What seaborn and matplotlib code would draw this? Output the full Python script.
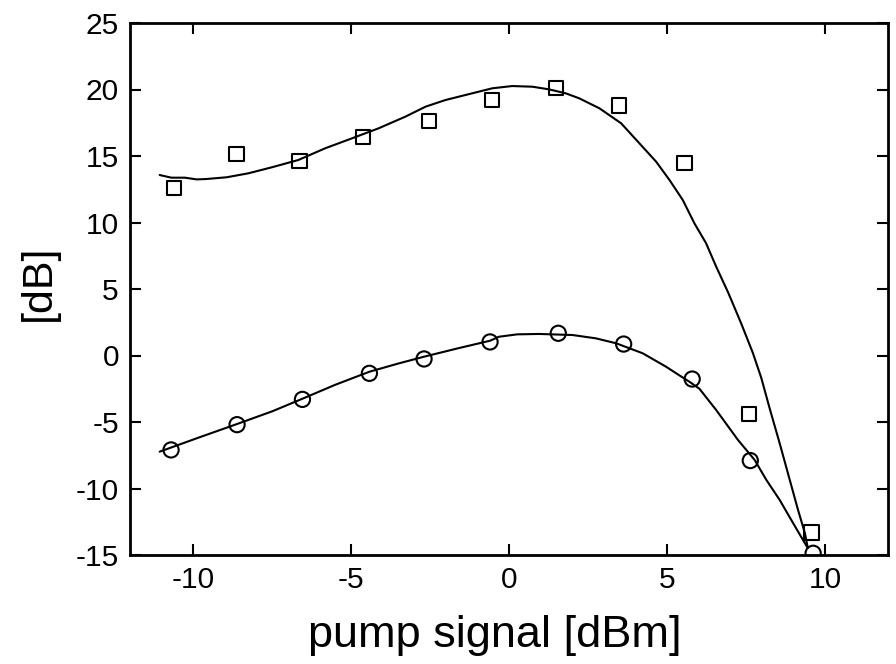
import matplotlib
matplotlib.use("Agg")
import matplotlib.pyplot as plt
import seaborn as sns
import pandas as pd

# measured points (squares)
sq_x = [-10.6, -8.63, -6.63, -4.63, -2.54, -0.55, 1.5, 3.49, 5.56, 7.59, 9.58]
sq_y = [12.6, 15.15, 14.6, 16.45, 17.65, 19.2, 20.14, 18.8, 14.45, -4.4, -13.3]

# measured points (circles)
ci_x = [-10.7, -8.61, -6.54, -4.42, -2.69, -0.6, 1.56, 3.63, 5.8, 7.64, 9.63]
ci_y = [-7.1, -5.2, -3.3, -1.34, -0.26, 1.02, 1.67, 0.86, -1.77, -7.9, -14.87]

# fitted curve (upper)
fit_up_x = [-11.06, -10.69, -10.26, -9.89, -9.58, -8.94, -8.25, -7.51, -6.67, -5.82,
            -4.97, -4.13, -3.28, -2.64, -2.01, -1.17, -0.53, 0.1, 0.74, 1.27, 1.8,
            2.22, 2.86, 3.55, 4.13, 4.66, 5.08, 5.5, 5.87, 6.24, 6.56, 6.93, 7.04,
            7.35, 7.72, 7.99, 8.25, 8.57, 8.89, 9.15, 9.37, 9.46]
fit_up_y = [13.57, 13.37, 13.37, 13.24, 13.27, 13.4, 13.7, 14.15, 14.7, 15.58,
            16.33, 17.08, 17.96, 18.71, 19.21, 19.71, 20.09, 20.26, 20.21, 20.01, 19.71,
            19.34, 18.59, 17.46, 15.95, 14.57, 13.2, 11.7, 9.94, 8.44, 6.68, 4.78, 4.17,
            2.42, 0.2, -1.7, -3.95, -6.6, -9.36, -11.6, -13.37, -14.47]

# fitted curve (lower)
fit_lo_x = [-11.06, -9.8, -8.61, -7.5, -6.54, -5.5, -4.42, -3.5, -2.69, -1.6, -0.6,
            -0.32, 0.26, 0.95, 2.01, 2.75, 3.39, 4.23, 4.97, 5.4, 5.71, 6.03, 6.56,
            7.25, 7.78, 8.15, 8.57, 9.0, 9.37, 9.46]
fit_lo_y = [-7.23, -6.15, -5.15, -4.2, -3.25, -2.2, -1.22, -0.6, -0.09, 0.55, 1.11,
            1.41, 1.59, 1.62, 1.54, 1.29, 0.92, 0.17, -0.84, -1.5, -1.97, -2.5, -4.1,
            -6.35, -7.86, -9.36, -10.86, -12.62, -14.12, -14.47]

x_ticks = [-10, -5, 0, 5, 10]
y_ticks = [-15, -10, -5, 0, 5, 10, 15, 20, 25]
x_label = "pump signal [dBm]"
y_label = "[dB]"

sns.set_style("ticks")
plt.rcParams['font.family'] = ['Liberation Sans', 'DejaVu Sans']
plt.rcParams['text.color'] = 'black'
plt.rcParams['axes.labelcolor'] = 'black'

fig = plt.figure(figsize=(8.96, 6.64), dpi=100)
ax = fig.add_axes([130/896, 109/664, 758/896, 532/664])

df_up = pd.DataFrame({"x": fit_up_x, "y": fit_up_y})
df_lo = pd.DataFrame({"x": fit_lo_x, "y": fit_lo_y})
df_sq = pd.DataFrame({"x": sq_x, "y": sq_y})
df_ci = pd.DataFrame({"x": ci_x, "y": ci_y})

sns.lineplot(data=df_up, x="x", y="y", ax=ax, color="black", lw=1.5, sort=False, estimator=None)
sns.lineplot(data=df_lo, x="x", y="y", ax=ax, color="black", lw=1.5, sort=False, estimator=None)
sns.scatterplot(data=df_sq, x="x", y="y", ax=ax, marker="s", s=105, facecolor="none",
                edgecolor="black", linewidth=1.5, zorder=3)
sns.scatterplot(data=df_ci, x="x", y="y", ax=ax, marker="o", s=120, facecolor="none",
                edgecolor="black", linewidth=1.5, zorder=3)

ax.set_xlim(-12, 12)
ax.set_ylim(-15, 25)
ax.set_xticks(x_ticks)
ax.set_yticks(y_ticks)
ax.set_xticklabels([str(t) for t in x_ticks])
ax.set_yticklabels([str(t) for t in y_ticks])
ax.tick_params(direction="in", length=8, width=1.5, labelsize=21.5, top=True, right=True,
               pad=8, colors="black", labelcolor="black")
for sp in ax.spines.values():
    sp.set_visible(True)
    sp.set_linewidth(2)
    sp.set_color("black")
ax.set_xlabel(x_label, fontsize=32.5, color="black")
ax.set_ylabel(y_label, fontsize=31, color="black")
ax.xaxis.set_label_coords(0.4815, -0.113)
ax.yaxis.set_label_coords(-0.094, 0.511)
ax.grid(False)

fig.savefig("out.png", dpi=100)
